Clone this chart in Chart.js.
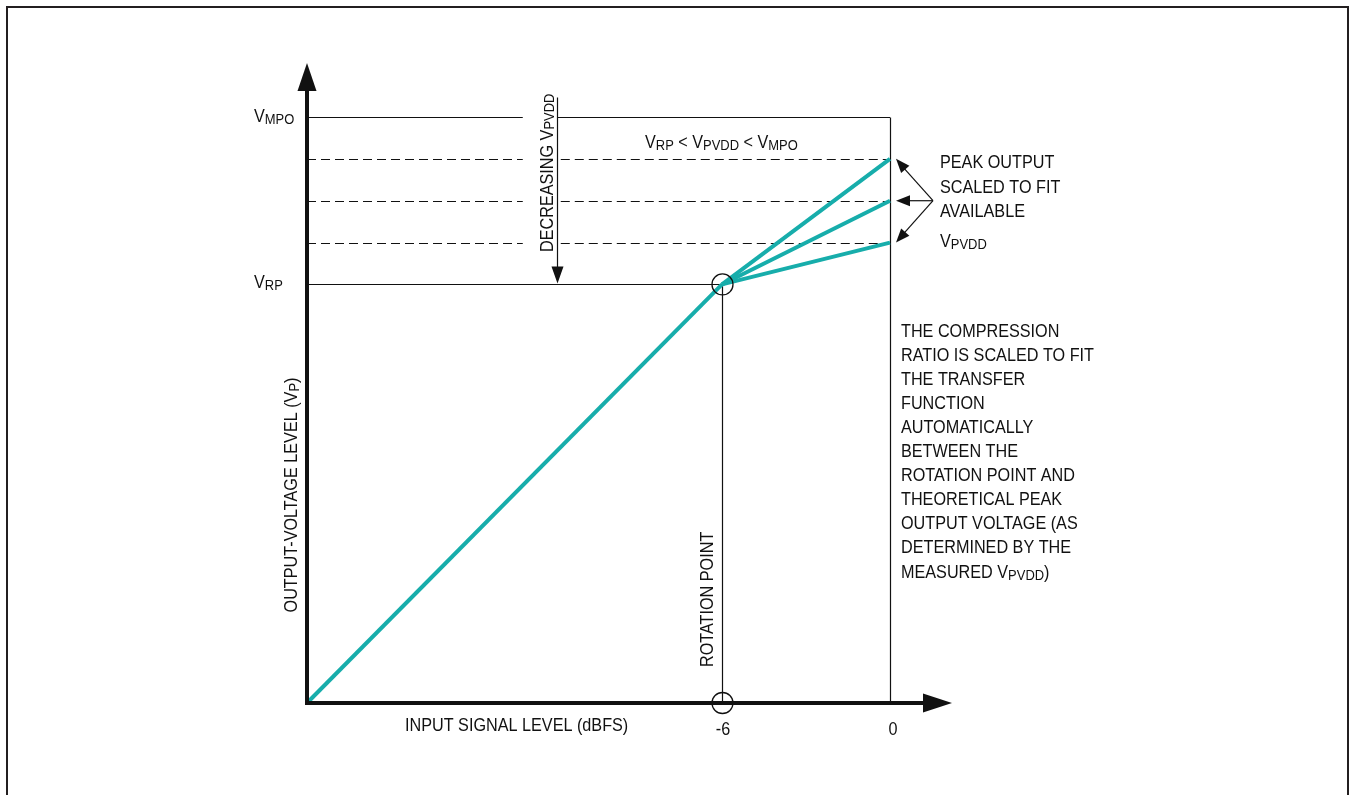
<!DOCTYPE html>
<html><head><meta charset="utf-8">
<script src="https://cdn.jsdelivr.net/npm/chart.js@4"></script>
<style>html,body{margin:0;padding:0;background:#fff;overflow:hidden}</style>
</head><body>
<canvas id="c" width="1351" height="795"></canvas>
<script>
// ---- data (schematic units: x in dBFS, y in arbitrary output-level units) ----
const inputRange = [-20.82, 0];
const outputRange = [0, 14];
const linearInput = [-20.82, -6];
const linearOutput = [0, 10];
const rotationPoint = [-6, 10];
const peakInputs = [0, 0, 0];
const peakOutputs = [13, 12, 11];
const levelVRP = 10;
const levelVMPO = 14;
const xTickValues = [-6, 0];
const xTickLabels = ['-6', '0'];
const decreasingArrowInput = -11.9;
const rightNote = ['THE COMPRESSION','RATIO IS SCALED TO FIT','THE TRANSFER','FUNCTION','AUTOMATICALLY','BETWEEN THE','ROTATION POINT AND','THEORETICAL PEAK','OUTPUT VOLTAGE (AS','DETERMINED BY THE'];
const peakNote = ['PEAK OUTPUT','SCALED TO FIT','AVAILABLE'];

const TEAL = '#17adab';
const INK = '#111';
const FONT = '"Liberation Sans", Arial, sans-serif';
const FS = 18, SX = 0.9;

function rich(ctx, parts, x, y, o) {
  o = Object.assign({size: FS, sx: SX, align: 'left', rot: 0, sub: 0.8, drop: 1.5}, o || {});
  ctx.save();
  ctx.translate(x, y);
  if (o.rot) ctx.rotate(o.rot);
  ctx.scale(o.sx, 1);
  ctx.fillStyle = INK;
  ctx.textBaseline = 'alphabetic';
  ctx.textAlign = 'left';
  let w = 0;
  parts.forEach(p => { ctx.font = (p[1] ? o.size * o.sub : o.size) + 'px ' + FONT; w += ctx.measureText(p[0]).width; });
  let cx = o.align === 'center' ? -w / 2 : (o.align === 'right' ? -w : 0);
  parts.forEach(p => {
    ctx.font = (p[1] ? o.size * o.sub : o.size) + 'px ' + FONT;
    ctx.fillText(p[0], cx, p[1] ? o.drop : 0);
    cx += ctx.measureText(p[0]).width;
  });
  ctx.restore();
}
function line(ctx, x1, y1, x2, y2, w, dash) {
  ctx.save();
  ctx.strokeStyle = INK; ctx.lineWidth = w || 1;
  ctx.setLineDash(dash || []);
  ctx.beginPath(); ctx.moveTo(x1, y1); ctx.lineTo(x2, y2); ctx.stroke();
  ctx.restore();
}
function head(ctx, fx, fy, tx, ty, len, half) {
  const a = Math.atan2(ty - fy, tx - fx);
  ctx.save();
  ctx.fillStyle = INK;
  ctx.beginPath();
  ctx.moveTo(tx, ty);
  ctx.lineTo(tx - len * Math.cos(a) + half * Math.sin(a), ty - len * Math.sin(a) - half * Math.cos(a));
  ctx.lineTo(tx - len * Math.cos(a) - half * Math.sin(a), ty - len * Math.sin(a) + half * Math.cos(a));
  ctx.closePath(); ctx.fill();
  ctx.restore();
}

const annot = {
  id: 'annot',
  beforeDatasetsDraw(chart) {
    const ctx = chart.ctx, xs = chart.scales.x, ys = chart.scales.y;
    const x0 = xs.getPixelForValue(inputRange[0]);
    const xEnd = xs.getPixelForValue(0);
    const xRot = xs.getPixelForValue(rotationPoint[0]);
    const xArr = xs.getPixelForValue(decreasingArrowInput);
    const yBase = ys.getPixelForValue(0);
    // frame
    ctx.save(); ctx.strokeStyle = '#231f20'; ctx.lineWidth = 2;
    ctx.beginPath(); ctx.moveTo(7, 795); ctx.lineTo(7, 7); ctx.lineTo(1348, 7); ctx.lineTo(1348, 795); ctx.stroke();
    ctx.restore();
    // VMPO line with gap
    const yM = Math.round(ys.getPixelForValue(levelVMPO)) + 0.5;
    line(ctx, x0, yM, xArr - 34, yM, 1.2);
    line(ctx, xArr + 1, yM, xEnd, yM, 1.2);
    // dashed peak levels
    peakOutputs.forEach(v => {
      const y = Math.round(ys.getPixelForValue(v)) + 0.5;
      line(ctx, x0, y, xArr - 34, y, 1.2, [9, 5]);
      line(ctx, xArr + 4, y, xEnd, y, 1.2, [9, 5]);
    });
    // VRP line
    const yR = Math.round(ys.getPixelForValue(levelVRP)) + 0.5;
    line(ctx, x0, yR, xRot, yR, 1.2);
    // verticals
    line(ctx, Math.round(xEnd) + 0.5, yM, Math.round(xEnd) + 0.5, yBase, 1.2);
    line(ctx, Math.round(xRot) + 0.5, yR, Math.round(xRot) + 0.5, yBase, 1.2);
    // decreasing arrow
    const xa = Math.round(xArr) + 0.5;
    line(ctx, xa, yM - 20, xa, yR - 14, 1.2);
    head(ctx, xa, yM, xa, yR - 1, 17, 6);
  },
  afterDatasetsDraw(chart) {
    const ctx = chart.ctx, xs = chart.scales.x, ys = chart.scales.y;
    const x0 = xs.getPixelForValue(inputRange[0]);
    const xEnd = xs.getPixelForValue(0);
    const xRot = xs.getPixelForValue(rotationPoint[0]);
    const xArr = xs.getPixelForValue(decreasingArrowInput);
    const yBase = ys.getPixelForValue(0);
    const yR = ys.getPixelForValue(levelVRP);
    const yM = ys.getPixelForValue(levelVMPO);
    // circles
    ctx.save(); ctx.strokeStyle = INK; ctx.lineWidth = 1.3;
    [[xRot, yR], [xRot, yBase]].forEach(p => { ctx.beginPath(); ctx.arc(p[0] + 0.5, p[1], 10.5, 0, Math.PI * 2); ctx.stroke(); });
    ctx.restore();
    // axes
    line(ctx, x0, yBase, x0 + 618, yBase, 4);
    head(ctx, x0, yBase, x0 + 645, yBase, 29, 9.5);
    line(ctx, x0, yBase + 2, x0, 88, 4);
    head(ctx, x0, yBase, x0, 63, 28, 9.5);
    // peak pointer arrows
    const px = xEnd + 43, py = ys.getPixelForValue(peakOutputs[1]);
    peakOutputs.forEach(v => {
      const tx = xEnd + 6, ty = ys.getPixelForValue(v);
      line(ctx, px, py, tx + (v === peakOutputs[1] ? 8 : 5), ty + (v > peakOutputs[1] ? 6 : (v < peakOutputs[1] ? -6 : 0)), 1.2);
      head(ctx, px, py, tx, ty, 14, 5.5);
    });
    // texts
    rich(ctx, [['V', 0], ['MPO', 1]], x0 - 53, yM + 5);
    rich(ctx, [['V', 0], ['RP', 1]], x0 - 53, yR + 4);
    rich(ctx, [['V', 0], ['RP', 1], [' < V', 0], ['PVDD', 1], [' < V', 0], ['MPO', 1]], 645, 148);
    peakNote.forEach((t, i) => rich(ctx, [[t, 0]], xEnd + 50, [168, 193, 217][i]));
    rich(ctx, [['V', 0], ['PVDD', 1]], xEnd + 50, 247);
    rightNote.forEach((t, i) => rich(ctx, [[t, 0]], xEnd + 11, 337 + i * 24));
    rich(ctx, [['MEASURED V', 0], ['PVDD', 1], [')', 0]], xEnd + 11, 578);
    xTickValues.forEach((v, i) => rich(ctx, [[xTickLabels[i], 0]], xs.getPixelForValue(v) + (i ? 3 : 1), 735, {align: 'center'}));
    rich(ctx, [['INPUT SIGNAL LEVEL (dBFS)', 0]], 405, 731);
    rich(ctx, [['OUTPUT-VOLTAGE LEVEL (V', 0], ['P', 1], [')', 0]], 297, 495, {rot: -Math.PI / 2, align: 'center'});
    rich(ctx, [['DECREASING V', 0], ['PVDD', 1]], xArr - 4, 252, {rot: -Math.PI / 2});
    rich(ctx, [['ROTATION POINT', 0]], xRot - 9, 667, {rot: -Math.PI / 2});
  }
};

const datasets = [{
  data: linearInput.map((x, i) => ({x: x, y: linearOutput[i]}))
}].concat(peakOutputs.map((v, i) => ({
  data: [{x: rotationPoint[0], y: rotationPoint[1]}, {x: peakInputs[i], y: v}]
}))).map(d => Object.assign(d, {borderColor: TEAL, borderWidth: 4, pointRadius: 0, clip: false, tension: 0, fill: false}));

new Chart(document.getElementById('c'), {
  type: 'line',
  data: {datasets: datasets},
  options: {
    responsive: false, animation: false, devicePixelRatio: 1,
    layout: {padding: {left: 307, top: 117, right: 461, bottom: 92}},
    plugins: {legend: {display: false}, tooltip: {enabled: false}},
    scales: {
      x: {type: 'linear', min: inputRange[0], max: inputRange[1], display: false},
      y: {type: 'linear', min: outputRange[0], max: outputRange[1], display: false}
    }
  },
  plugins: [annot]
});
</script>
</body></html>
